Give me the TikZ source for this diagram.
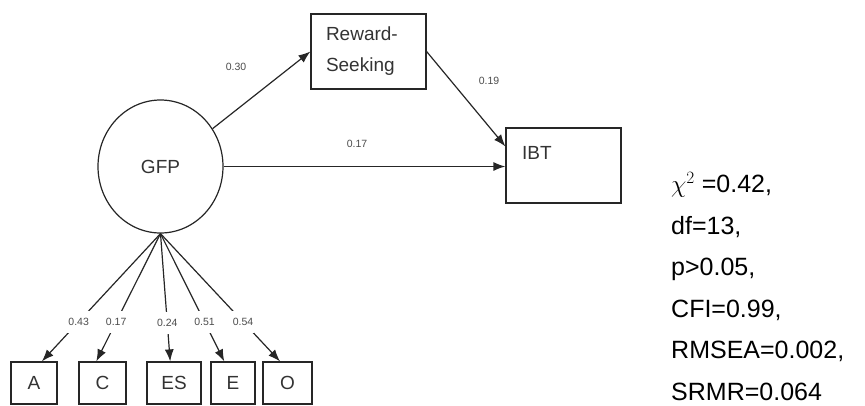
\documentclass[tikz,border=0pt]{standalone}
\usepackage{fontspec}
\setmainfont{Liberation Sans}
\usetikzlibrary{arrows.meta,shapes.geometric}

\tikzset{
  box/.style={draw=black!85, line width=1.2pt, inner sep=0pt, text=black!80},
  link/.style={draw=black!85, line width=1.2pt, -{Latex[length=12pt,width=9pt]}},
  coef/.style={font=\fontsize{10.5}{12}\selectfont, text=black!70},
  onlink/.style={coef, fill=white, inner xsep=1pt, inner ysep=7pt}
}

\begin{document}
\begin{tikzpicture}[x=1pt,y=-1pt]
\useasboundingbox (0,0) rectangle (865,405);

% latent factor and outcomes
\node[ellipse, draw=black!85, line width=1.2pt, minimum width=125pt, minimum height=133pt,
  text=black!80, font=\fontsize{19}{22}\selectfont] (gfp) at (160.5,166.5) {GFP};
\node[box, minimum width=115pt, minimum height=75pt, text width=85pt, align=left,
  font=\fontsize{19}{31}\selectfont] (rs) at (368.5,51.5) {Reward-\\Seeking};
\node[box, minimum width=115pt, minimum height=75pt] (ibt) at (563.5,165.5) {};
\node[anchor=north west, inner sep=0pt, text=black!80, font=\fontsize{19}{22}\selectfont] (ibtlab) at (522,146) {IBT};

% paths
\draw[link] (gfp.36) -- (rs.west);
\draw[link] (gfp.east) -- (gfp.east -| ibt.west);
\draw[link] (rs.east) -- ([yshift=-19pt]ibt.north west);
\node[coef] (c030) at (236,67) {0.30};
\node[coef] (c017) at (357,144) {0.17};
\node[coef] (c019) at (489,81) {0.19};

% indicators
\node[box, minimum width=46pt, minimum height=42pt, font=\fontsize{19}{22}\selectfont] (a) at (34,383) {A};
\node[box, minimum width=47pt, minimum height=42pt, font=\fontsize{19}{22}\selectfont] (c) at (102.5,383) {C};
\node[box, minimum width=54pt, minimum height=42pt, font=\fontsize{19}{22}\selectfont] (es) at (174,383) {ES};
\node[box, minimum width=44pt, minimum height=42pt, font=\fontsize{19}{22}\selectfont] (e) at (233,383) {E};
\node[box, minimum width=49pt, minimum height=42pt, font=\fontsize{19}{22}\selectfont] (o) at (287.5,383) {O};

\draw[link] (gfp.south) -- (a.70) node[onlink, pos=0.69] (la) {0.43};
\draw[link] (gfp.south) -- (c.106) node[onlink, pos=0.69] (lc) {0.17};
\draw[link] (gfp.south) -- (es.100) node[onlink, pos=0.7] (les) {0.24};
\draw[link] (gfp.south) -- (e.112) node[onlink, pos=0.69] (le) {0.51};
\draw[link] (gfp.south) -- (o.109) node[onlink, pos=0.69] (lo) {0.54};

% fit indices
\node[anchor=base west, align=left, inner sep=0pt, font=\fontsize{25}{41.5}\selectfont] (fit) at (671,400)
  {$\chi^{2}$ =0.42,\\df=13,\\p>0.05,\\CFI=0.99,\\RMSEA=0.002,\\SRMR=0.064};
\end{tikzpicture}
\end{document}
